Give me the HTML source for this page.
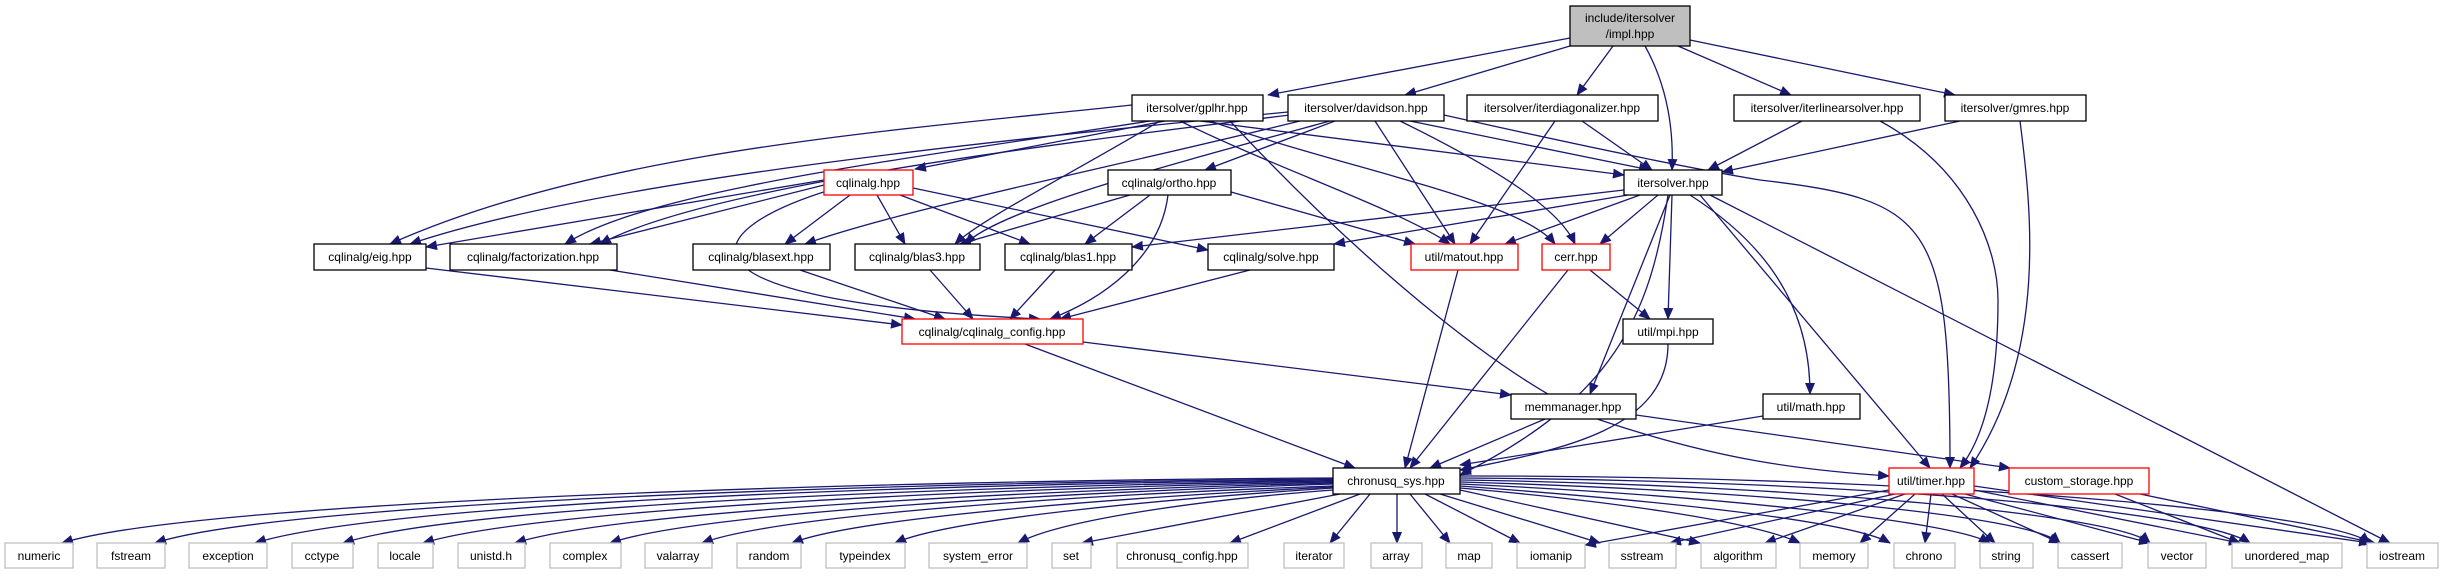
<!DOCTYPE html>
<html><head><meta charset="utf-8"><style>
html,body{margin:0;padding:0;background:#fff}
svg text{font-family:"Liberation Sans",sans-serif;font-size:12px;fill:#000;text-anchor:middle}
</style></head><body>
<svg width="2445" height="575" viewBox="0 0 2445 575" xmlns="http://www.w3.org/2000/svg">
<defs><marker id="a" markerUnits="userSpaceOnUse" markerWidth="12" markerHeight="10" refX="11" refY="5" orient="auto"><path d="M0,0 L12,5 L0,10 z" fill="#191970"/></marker></defs>
<g fill="none" stroke="#191970" stroke-width="1.3" marker-end="url(#a)">
<path d="M1570 38 L1268 95"/><path d="M1570 46 L1405 95"/><path d="M1613 46 L1577 95"/><path d="M1645 46 Q1675 100 1672 170"/><path d="M1678 46 L1791 95"/><path d="M1690 40 L1955 95"/>
<path d="M1132 105 C900 130 600 150 390 244"/><path d="M1150 121 C900 160 650 190 565 244"/><path d="M1165 121 L915 169"/><path d="M1160 121 C1060 180 980 220 955 244"/><path d="M1180 121 C1280 170 1400 210 1450 244"/><path d="M1200 121 L1624 175"/><path d="M1210 121 C1350 170 1520 200 1555 244"/><path d="M1230 121 C1350 250 1500 380 1600 420 C1720 460 1800 470 1889 476"/>
<path d="M1288 112 C1000 140 600 180 410 244"/><path d="M1290 115 C1000 150 700 190 600 244"/><path d="M1300 121 C1100 170 900 210 805 244"/><path d="M1330 121 C1150 170 1000 210 965 244"/><path d="M1335 121 L1205 170"/><path d="M1375 121 L1455 244"/><path d="M1400 121 C1500 170 1560 210 1575 244"/><path d="M1410 121 L1650 170"/><path d="M1444 115 C1600 150 1700 170 1760 180 C1930 200 1950 220 1950 468"/>
<path d="M1555 121 L1470 244"/><path d="M1582 121 L1652 170"/>
<path d="M1802 121 L1708 170"/><path d="M1880 121 C1970 170 1998 250 1998 300 Q1998 420 1960 468"/>
<path d="M1960 121 L1722 172"/><path d="M2020 121 C2030 200 2050 350 1970 468"/>
<path d="M824 180 L426 247"/><path d="M824 185 L590 244"/><path d="M830 190 C700 230 650 300 1040 319"/><path d="M850 195 L785 244"/><path d="M877 195 L905 244"/><path d="M900 195 L1030 244"/><path d="M913 188 L1208 250"/>
<path d="M1130 195 L960 244"/><path d="M1150 195 L1085 244"/><path d="M1231 192 L1415 244"/><path d="M1168 195 C1160 260 1100 300 1050 319"/>
<path d="M1624 190 L1132 247"/><path d="M1628 195 L1334 244"/><path d="M1640 195 L1505 244"/><path d="M1658 195 L1600 244"/><path d="M1672 195 L1668 319"/><path d="M1670 195 L1590 394"/><path d="M1668 195 C1650 320 1610 400 1460 475"/><path d="M1690 195 C1760 240 1810 300 1810 394"/><path d="M1710 195 L2390 543"/><path d="M1700 195 L1930 468"/>
<path d="M426 268 L902 325"/><path d="M610 270 L915 319"/><path d="M800 270 L945 319"/><path d="M930 270 L973 319"/><path d="M1055 270 L1010 319"/><path d="M1250 270 L1060 319"/>
<path d="M1458 270 L1405 468"/><path d="M1590 270 L1650 319"/><path d="M1568 270 L1410 468"/><path d="M1668 344 C1668 430 1560 450 1460 470"/><path d="M1763 416 L1460 465"/><path d="M1545 419 L1430 468"/><path d="M1636 415 L2010 468"/><path d="M1083 342 L1511 395"/><path d="M1025 344 L1355 468"/>
<path d="M1333 478 C900 480 200 500 62 543"/><path d="M1333 479 C900 482 280 502 155 543"/><path d="M1333 480 C900 484 380 504 255 543"/><path d="M1333 481 C950 486 460 506 343 543"/><path d="M1333 482 C1000 488 540 508 423 543"/><path d="M1333 483 C1050 490 620 510 515 543"/><path d="M1333 484 C1080 492 700 512 610 543"/><path d="M1333 486 C1100 494 780 514 702 543"/><path d="M1333 487 C1150 496 860 516 792 543"/><path d="M1333 488 C1180 498 950 518 895 543"/><path d="M1333 490 C1200 500 1060 520 1018 543"/><path d="M1340 494 L1082 543"/>
<path d="M1360 494 L1230 543"/><path d="M1370 494 L1330 543"/><path d="M1397 494 L1397 543"/><path d="M1410 494 L1450 543"/><path d="M1425 494 L1520 543"/><path d="M1440 494 L1600 543"/><path d="M1460 490 L1700 543"/><path d="M1460 488 C1600 500 1750 520 1800 543"/><path d="M1460 486 C1650 500 1850 520 1890 543"/><path d="M1460 484 C1700 495 1950 520 1990 543"/><path d="M1460 482 C1750 490 2030 515 2060 543"/><path d="M1460 480 C1800 485 2120 515 2150 543"/><path d="M1460 478 C1850 480 2200 510 2250 543"/><path d="M1460 476 C1900 475 2330 510 2370 543"/>
<path d="M1889 490 L1585 545"/><path d="M1895 494 L1670 543"/><path d="M1905 494 L1765 543"/><path d="M1915 494 L1860 543"/><path d="M1931 494 L1925 543"/><path d="M1942 494 L1995 543"/><path d="M1952 494 L2060 543"/><path d="M1965 494 L2150 543"/><path d="M1974 490 L2240 543"/><path d="M1974 486 L2370 543"/><path d="M2115 494 L2240 543"/><path d="M2140 494 L2375 543"/>
</g>
<g stroke-width="1.3">
<rect x="1570" y="6" width="120" height="40" fill="#bfbfbf" stroke="#000"/>
<g fill="#fff" stroke="#000">
<rect x="1132" y="95" width="131" height="26"/><rect x="1288" y="95" width="156" height="26"/><rect x="1467" y="95" width="191" height="26"/><rect x="1734" y="95" width="186" height="26"/><rect x="1945" y="95" width="141" height="26"/>
<rect x="1108" y="170" width="123" height="25"/><rect x="1624" y="170" width="98" height="25"/>
<rect x="314" y="244" width="112" height="26"/><rect x="450" y="244" width="167" height="26"/><rect x="693" y="244" width="137" height="26"/><rect x="855" y="244" width="125" height="26"/><rect x="1005" y="244" width="127" height="26"/><rect x="1208" y="244" width="126" height="26"/>
<rect x="1623" y="319" width="90" height="25"/><rect x="1511" y="394" width="125" height="25"/><rect x="1763" y="394" width="97" height="25"/><rect x="1333" y="468" width="127" height="26"/>
</g>
<g fill="#fff" stroke="#f00">
<rect x="824" y="170" width="89" height="25"/><rect x="1411" y="244" width="107" height="26"/><rect x="1542" y="244" width="68" height="26"/><rect x="902" y="319" width="181" height="25"/><rect x="1889" y="468" width="85" height="26"/><rect x="2009" y="468" width="140" height="26"/>
</g>
<g fill="#fff" stroke="#bfbfbf">
<rect x="5" y="543" width="68" height="25"/><rect x="97" y="543" width="68" height="25"/><rect x="189" y="543" width="78" height="25"/><rect x="292" y="543" width="61" height="25"/><rect x="378" y="543" width="55" height="25"/><rect x="458" y="543" width="67" height="25"/><rect x="550" y="543" width="71" height="25"/><rect x="645" y="543" width="67" height="25"/><rect x="737" y="543" width="64" height="25"/><rect x="826" y="543" width="79" height="25"/><rect x="929" y="543" width="98" height="25"/><rect x="1052" y="543" width="39" height="25"/><rect x="1117" y="543" width="131" height="25"/><rect x="1284" y="543" width="60" height="25"/><rect x="1371" y="543" width="51" height="25"/><rect x="1446" y="543" width="46" height="25"/><rect x="1517" y="543" width="68" height="25"/><rect x="1609" y="543" width="67" height="25"/><rect x="1701" y="543" width="75" height="25"/><rect x="1800" y="543" width="68" height="25"/><rect x="1894" y="543" width="61" height="25"/><rect x="1980" y="543" width="53" height="25"/><rect x="2058" y="543" width="64" height="25"/><rect x="2148" y="543" width="58" height="25"/><rect x="2232" y="543" width="110" height="25"/><rect x="2367" y="543" width="71" height="25"/>
</g></g>
<g>
<text x="1630" y="22">include/itersolver</text><text x="1630" y="38">/impl.hpp</text>
<text x="1197" y="112">itersolver/gplhr.hpp</text><text x="1366" y="112">itersolver/davidson.hpp</text><text x="1562" y="112">itersolver/iterdiagonalizer.hpp</text><text x="1827" y="112">itersolver/iterlinearsolver.hpp</text><text x="2015" y="112">itersolver/gmres.hpp</text>
<text x="868" y="187">cqlinalg.hpp</text><text x="1169" y="187">cqlinalg/ortho.hpp</text><text x="1673" y="187">itersolver.hpp</text>
<text x="370" y="261">cqlinalg/eig.hpp</text><text x="533" y="261">cqlinalg/factorization.hpp</text><text x="761" y="261">cqlinalg/blasext.hpp</text><text x="917" y="261">cqlinalg/blas3.hpp</text><text x="1068" y="261">cqlinalg/blas1.hpp</text><text x="1271" y="261">cqlinalg/solve.hpp</text><text x="1464" y="261">util/matout.hpp</text><text x="1576" y="261">cerr.hpp</text>
<text x="992" y="336">cqlinalg/cqlinalg_config.hpp</text><text x="1668" y="336">util/mpi.hpp</text>
<text x="1573" y="411">memmanager.hpp</text><text x="1811" y="411">util/math.hpp</text>
<text x="1396" y="485">chronusq_sys.hpp</text><text x="1931" y="485">util/timer.hpp</text><text x="2079" y="485">custom_storage.hpp</text>
</g>
<g style="fill:#000">
<text x="39" y="560">numeric</text><text x="131" y="560">fstream</text><text x="228" y="560">exception</text><text x="322" y="560">cctype</text><text x="405" y="560">locale</text><text x="491" y="560">unistd.h</text><text x="585" y="560">complex</text><text x="678" y="560">valarray</text><text x="769" y="560">random</text><text x="865" y="560">typeindex</text><text x="978" y="560">system_error</text><text x="1071" y="560">set</text><text x="1182" y="560">chronusq_config.hpp</text><text x="1314" y="560">iterator</text><text x="1396" y="560">array</text><text x="1469" y="560">map</text><text x="1551" y="560">iomanip</text><text x="1642" y="560">sstream</text><text x="1738" y="560">algorithm</text><text x="1834" y="560">memory</text><text x="1924" y="560">chrono</text><text x="2006" y="560">string</text><text x="2090" y="560">cassert</text><text x="2177" y="560">vector</text><text x="2287" y="560">unordered_map</text><text x="2402" y="560">iostream</text>
</g>
</svg>
</body></html>
